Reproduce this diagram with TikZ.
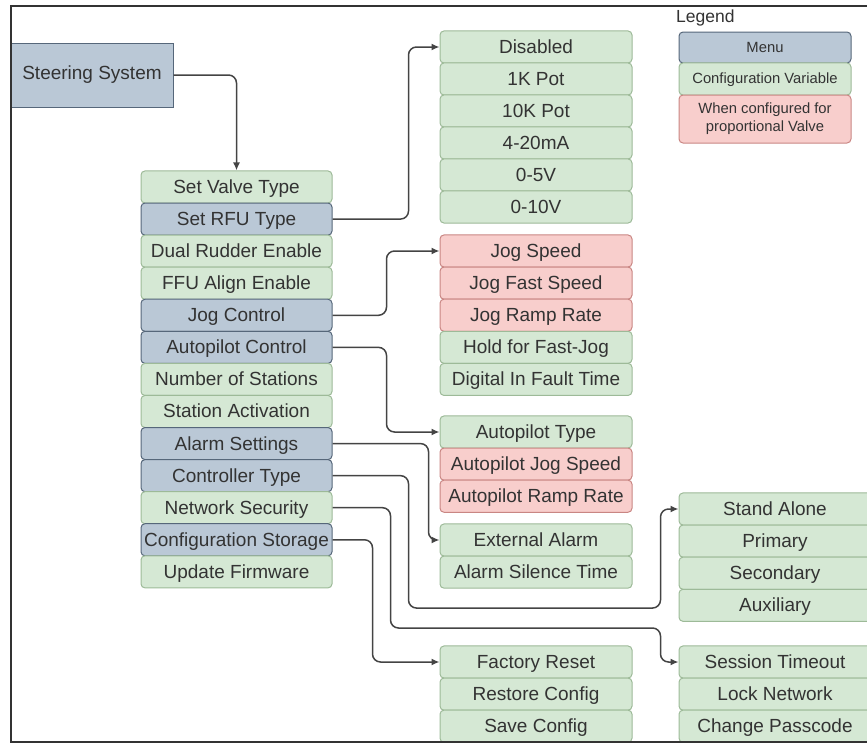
\documentclass[tikz,border=0pt]{standalone}
\usepackage{fontspec}
\setmainfont{Liberation Sans}
\usetikzlibrary{arrows.meta}

\definecolor{menufill}{HTML}{BAC8D6}
\definecolor{menudraw}{HTML}{56677A}
\definecolor{varfill}{HTML}{D5E8D4}
\definecolor{vardraw}{HTML}{9DBA98}
\definecolor{propfill}{HTML}{F8CECC}
\definecolor{propdraw}{HTML}{C98683}
\definecolor{ink}{HTML}{333333}
\definecolor{wire}{HTML}{444444}

\tikzset{
  item/.style={rectangle, rounded corners=4pt, minimum height=32.1pt, inner sep=0pt,
    line width=1pt, text=ink, font=\fontsize{19}{22}\selectfont,
    text height=14pt, text depth=1pt},
  menu/.style={item, fill=menufill, draw=menudraw},
  var/.style={item, fill=varfill, draw=vardraw},
  prop/.style={item, fill=propfill, draw=propdraw},
  mainw/.style={minimum width=191pt},
  optw/.style={minimum width=192pt},
  legw/.style={minimum width=172pt, font=\fontsize{14.8}{18}\selectfont,
    text height=10.6pt, text depth=1pt},
  conn/.style={draw=wire, line width=1.5pt, rounded corners=8pt,
    -{Latex[length=8pt,width=7pt]}},
}

\begin{document}
\begin{tikzpicture}[x=1pt,y=-1pt]
\useasboundingbox (0,0) rectangle (867,745);

% root menu
\node[rectangle, fill=menufill, draw=menudraw, line width=1pt, minimum width=162pt,
  minimum height=64pt, inner sep=0pt, text=ink, font=\fontsize{19}{22}\selectfont]
  (ss) at (92,75) {Steering System};

% main menu column
\node[var,mainw]  (svt) at (236.5,187.00) {Set Valve Type};
\node[menu,mainw] (rfu) at (236.5,219.07) {Set RFU Type};
\node[var,mainw]  (dre) at (236.5,251.14) {Dual Rudder Enable};
\node[var,mainw]  (ffu) at (236.5,283.21) {FFU Align Enable};
\node[menu,mainw] (jog) at (236.5,315.28) {Jog Control};
\node[menu,mainw] (apc) at (236.5,347.35) {Autopilot Control};
\node[var,mainw]  (nos) at (236.5,379.42) {Number of Stations};
\node[var,mainw]  (sta) at (236.5,411.49) {Station Activation};
\node[menu,mainw] (als) at (236.5,443.56) {Alarm Settings};
\node[menu,mainw] (ctl) at (236.5,475.63) {Controller Type};
\node[var,mainw]  (nsec) at (236.5,507.70) {Network Security};
\node[menu,mainw] (cfs) at (236.5,539.77) {Configuration Storage};
\node[var,mainw]  (upd) at (236.5,571.84) {Update Firmware};

% RFU types
\node[var,optw] (dis) at (536,47)  {Disabled};
\node[var,optw] (k1)  at (536,79)  {1K Pot};
\node[var,optw] (k10) at (536,111) {10K Pot};
\node[var,optw] (ma)  at (536,143) {4-20mA};
\node[var,optw] (v5)  at (536,175) {0-5V};
\node[var,optw] (v10) at (536,207) {0-10V};

% jog control
\node[prop,optw] (js)  at (536,251)   {Jog Speed};
\node[prop,optw] (jfs) at (536,283.1) {Jog Fast Speed};
\node[prop,optw] (jrr) at (536,315.2) {Jog Ramp Rate};
\node[var,optw]  (hfj) at (536,347.3) {Hold for Fast-Jog};
\node[var,optw]  (dif) at (536,379.4) {Digital In Fault Time};

% autopilot control
\node[var,optw]  (apt) at (536,432)   {Autopilot Type};
\node[prop,optw] (ajs) at (536,464.1) {Autopilot Jog Speed};
\node[prop,optw] (arr) at (536,496.2) {Autopilot Ramp Rate};

% alarm settings
\node[var,optw] (ext) at (536,540)   {External Alarm};
\node[var,optw] (ast) at (536,572.1) {Alarm Silence Time};

% configuration storage
\node[var,optw] (fr)  at (536,662)   {Factory Reset};
\node[var,optw] (rc)  at (536,694.1) {Restore Config};
\node[var,optw] (sc)  at (536,726.2) {Save Config};

% controller types
\node[var,optw] (sa)  at (775,509)   {Stand Alone};
\node[var,optw] (pri) at (775,541.1) {Primary};
\node[var,optw] (sec) at (775,573.2) {Secondary};
\node[var,optw] (aux) at (775,605.3) {Auxiliary};

% network security
\node[var,optw] (st)  at (775,662)   {Session Timeout};
\node[var,optw] (ln)  at (775,694.1) {Lock Network};
\node[var,optw] (cp)  at (775,726.2) {Change Passcode};

% legend
\node[anchor=west, inner sep=0pt, text=ink, font=\fontsize{17.5}{20}\selectfont]
  (lg) at (676,18) {Legend};
\node[menu,legw, minimum height=31pt] (lm) at (765,47.5) {Menu};
\node[var,legw] (lv) at (765,79) {Configuration Variable};
\node[prop,legw, minimum height=48pt, align=center, text height=, text depth=]
  (lp) at (765,119) {When configured for\\proportional Valve};

% connectors
\draw[conn] (ss.east) -| (svt.north);
\draw[conn] (rfu.east) -- ++(76,0) |- (dis.west);
\draw[conn] (jog.east) -- ++(54,0) |- (js.west);
\draw[conn] (apc.east) -- ++(54,0) |- (apt.west);
\draw[conn] (als.east) -- ++(96,0) |- (ext.west);
\draw[conn] (ctl.east) -- ++(76,0) -- ++(0,132.4) -- ++(252,0) |- (sa.west);
\draw[conn] (nsec.east) -- ++(58,0) -- ++(0,120.3) -- ++(270,0) |- (st.west);
\draw[conn] (cfs.east) -- ++(40,0) |- (fr.west);

% outer frame
\draw[line width=2pt, draw=black!80] (867,6) -- (11,6) -- (11,742) -- (867,742);
\end{tikzpicture}
\end{document}
